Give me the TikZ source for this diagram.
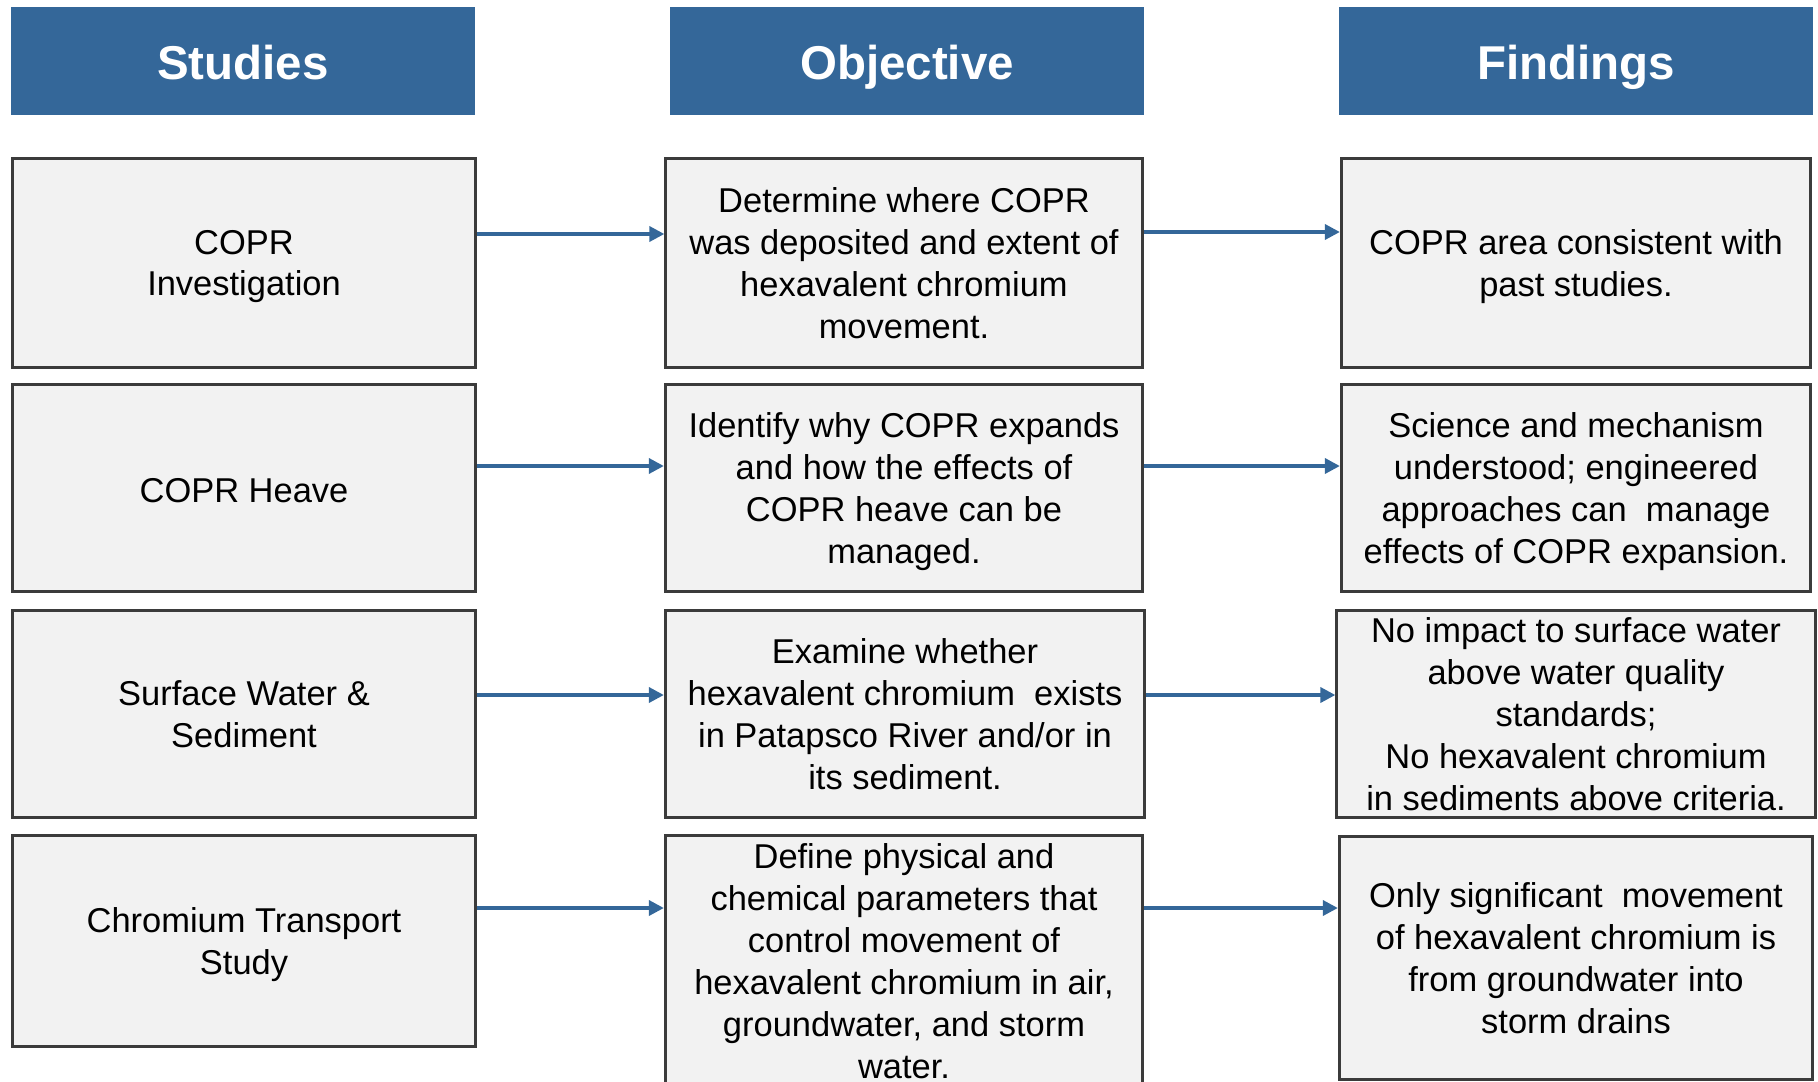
\documentclass[tikz,border=0pt]{standalone}
\usepackage{fontspec}
\setmainfont{Liberation Sans}
\usetikzlibrary{arrows.meta}
\definecolor{headblue}{RGB}{52,103,153}
\definecolor{boxgray}{RGB}{242,242,242}
\definecolor{boxline}{RGB}{59,59,59}
\begin{document}
\begin{tikzpicture}
  [x=0.01cm,y=-0.01cm,
   head/.style={fill=headblue,text=white,inner sep=0pt,minimum height=1.08cm,
     text height=12pt,text depth=1.2pt,
     font=\fontsize{13.5pt}{16pt}\selectfont\bfseries},
   box/.style={draw=boxline,line width=0.85pt,fill=boxgray,inner sep=0pt,align=center,
     text depth=0pt,execute at begin node={\rule{0pt}{8.5pt}},
     font=\fontsize{9.8pt}{11.9pt}\selectfont},
   link/.style={draw=headblue,line width=1pt,-{Triangle[length=0.15cm,width=0.15cm]}}]
  \useasboundingbox (0,0) rectangle (1818,1082);

  \node[head,minimum width=4.64cm] (hs) at (243,61) {Studies};
  \node[head,minimum width=4.74cm] (ho) at (907,61) {Objective};
  \node[head,minimum width=4.73cm] (hf) at (1576,61) {Findings};

  \node[box,minimum width=4.62cm,minimum height=2.08cm] (s1) at (244,263) {COPR\\Investigation};
  \node[box,minimum width=4.62cm,minimum height=2.06cm] (s2) at (244,488) {COPR Heave};
  \node[box,minimum width=4.62cm,minimum height=2.06cm] (s3) at (244,714) {Surface Water \&\\Sediment};
  \node[box,minimum width=4.62cm,minimum height=2.10cm] (s4) at (244,941) {Chromium Transport\\Study};

  \node[box,minimum width=4.76cm,minimum height=2.08cm] (o1) at (904,263) {Determine where COPR\\was deposited and extent of\\hexavalent chromium\\movement.};
  \node[box,minimum width=4.77cm,minimum height=2.06cm] (o2) at (904,488) {Identify why COPR expands\\and how the effects of\\COPR heave can be\\managed.};
  \node[box,minimum width=4.79cm,minimum height=2.06cm] (o3) at (905,714) {Examine whether\\hexavalent chromium~ exists\\in Patapsco River and/or in\\its sediment.};
  \node[box,minimum width=4.77cm,minimum height=2.50cm] (o4) at (904,961) {Define physical and\\chemical parameters that\\control movement of\\hexavalent chromium in air,\\groundwater, and storm\\water.};

  \node[box,minimum width=4.69cm,minimum height=2.08cm] (f1) at (1576,263) {COPR area consistent with\\past studies.};
  \node[box,minimum width=4.69cm,minimum height=2.06cm] (f2) at (1576,488) {Science and mechanism\\understood; engineered\\approaches can~ manage\\effects of COPR expansion.};
  \node[box,minimum width=4.78cm,minimum height=2.06cm] (f3) at (1576,714) {No impact to surface water\\above water quality\\standards;\\No hexavalent chromium\\in sediments above criteria.};
  \node[box,minimum width=4.73cm,minimum height=2.43cm] (f4) at (1576,958) {Only significant~ movement\\of hexavalent chromium is\\from groundwater into\\storm drains};

  \draw[link] (s1.east |- 0,234) -- (o1.west |- 0,234);
  \draw[link] (o1.east |- 0,232) -- (f1.west |- 0,232);
  \draw[link] (s2.east |- 0,466) -- (o2.west |- 0,466);
  \draw[link] (o2.east |- 0,466) -- (f2.west |- 0,466);
  \draw[link] (s3.east |- 0,695) -- (o3.west |- 0,695);
  \draw[link] (o3.east |- 0,695) -- (f3.west |- 0,695);
  \draw[link] (s4.east |- 0,908) -- (o4.west |- 0,908);
  \draw[link] (o4.east |- 0,908) -- (f4.west |- 0,908);

\end{tikzpicture}
\end{document}
